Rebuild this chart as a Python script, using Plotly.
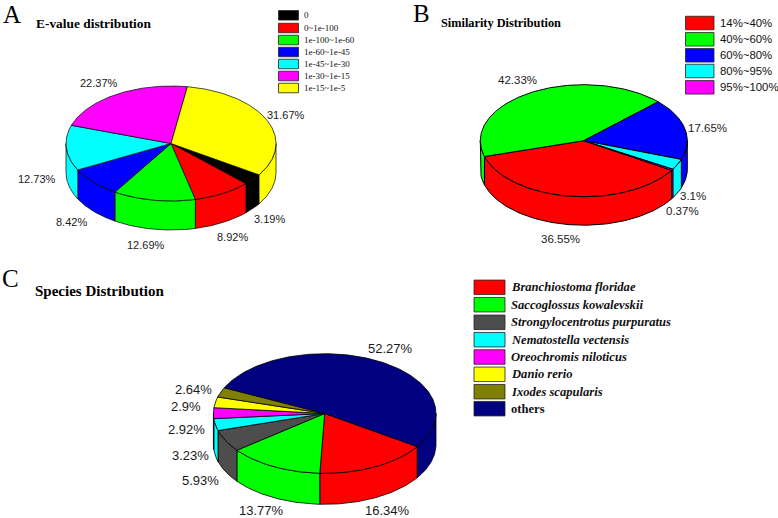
import numpy as np
import plotly.graph_objects as go

# ---- data ----
evalue_labels = ["0", "0~1e-100", "1e-100~1e-60", "1e-60~1e-45", "1e-45~1e-30", "1e-30~1e-15", "1e-15~1e-5"]
evalue_values = [3.19, 8.92, 12.69, 8.42, 12.73, 22.37, 31.67]
evalue_colors = ["#000000", "#FF0000", "#00FF00", "#0000FF", "#00FFFF", "#FF00FF", "#FFFF00"]

similarity_labels = ["14%~40%", "40%~60%", "60%~80%", "80%~95%", "95%~100%"]
similarity_values = [36.55, 42.33, 17.65, 3.1, 0.37]
similarity_colors = ["#FF0000", "#00FF00", "#0000FF", "#00FFFF", "#FF00FF"]

species_labels = ["Branchiostoma floridae", "Saccoglossus kowalevskii", "Strongylocentrotus purpuratus",
                  "Nematostella vectensis", "Oreochromis niloticus", "Danio rerio", "Ixodes scapularis", "others"]
species_values = [16.34, 13.77, 5.93, 3.23, 2.92, 2.9, 2.64, 52.27]
species_colors = ["#FF0000", "#00FF00", "#4D4D4D", "#00FFFF", "#FF00FF", "#FFFF00", "#808000", "#000080"]

# ---- layout of the three pies (pixel space of the page) ----
pie_a = dict(cx=171, cy=143.5, rx=105, ry=57.5, depth=29, start=33, lw=0.7)
pie_b = dict(cx=583.8, cy=140.7, rx=103.5, ry=56, depth=28.5, start=32, lw=1.0)
pie_c = dict(cx=324.7, cy=413.5, rx=111.3, ry=59.8, depth=31, start=33.7, lw=0.8)

label_pos_a = [(269.7, 219), (232, 237), (145.7, 245), (71, 222.3), (36.7, 179.3), (99, 82.7), (286.3, 114.7)]
label_pos_b = [(560.3, 238.7), (517.3, 80), (707.3, 127.7), (693.3, 196), (682, 211.3)]
label_pos_c = [(387.3, 510.5), (261, 510.5), (200.7, 480), (190.7, 455.7), (186, 429.7), (186, 406.7), (193.3, 389.3), (390, 348.7)]

SANS = "Liberation Sans"
SERIF = "Liberation Serif"

fig = go.Figure()
annotations = []
shapes = []


def text(x, y, s, size, family=SANS, anchor="center", color="#1a1a1a"):
    annotations.append(dict(x=x, y=y, xref="x", yref="y", text=s, showarrow=False, xanchor=anchor,
                            yanchor="middle", align=anchor, borderpad=0,
                            font=dict(family=family, size=size, color=color)))


def draw_pie(values, colors, p, label_pos, size):
    total = sum(values)
    spans = np.array(values) / total * 360.0
    edges = p["start"] + np.concatenate([[0], np.cumsum(spans)])

    def arc(a, b, dy=0.0):
        t = np.radians(np.linspace(a, b, max(int(abs(b - a)) + 2, 3)))
        return p["cx"] + p["rx"] * np.cos(t), p["cy"] + dy + p["ry"] * np.sin(t)

    # outer walls: only the part facing the viewer (0..180 degrees, also after wrapping)
    for i, c in enumerate(colors):
        for off in (0, -360):
            a = max(edges[i] + off, 0)
            b = min(edges[i + 1] + off, 180)
            if b > a:
                x1, y1 = arc(a, b)
                x2, y2 = arc(b, a, p["depth"])
                fig.add_trace(go.Scatter(x=np.r_[x1, x2, x1[0]], y=np.r_[y1, y2, y1[0]], mode="lines",
                                         fill="toself", fillcolor=c, line=dict(color="#000", width=p["lw"]),
                                         hoverinfo="skip", showlegend=False))
    # top faces
    for i, c in enumerate(colors):
        x1, y1 = arc(edges[i], edges[i + 1])
        fig.add_trace(go.Scatter(x=np.r_[p["cx"], x1, p["cx"]], y=np.r_[p["cy"], y1, p["cy"]], mode="lines",
                                 fill="toself", fillcolor=c, line=dict(color="#000", width=p["lw"]),
                                 hoverinfo="skip", showlegend=False))
    for v, (x, y) in zip(values, label_pos):
        text(x, y, f"{v:g}%", size)


def legend(labels, colors, x0, x1, ys, h, tx, size, family, fmt=lambda s: s):
    for s, c, y in zip(labels, colors, ys):
        shapes.append(dict(type="rect", xref="x", yref="y", x0=x0, x1=x1, y0=y - h / 2, y1=y + h / 2,
                           fillcolor=c, line=dict(color="#222", width=0.8)))
        text(tx, y, fmt(s), size, family, "left", "#111")


draw_pie(evalue_values, evalue_colors, pie_a, label_pos_a, 11)
draw_pie(similarity_values, similarity_colors, pie_b, label_pos_b, 11.5)
draw_pie(species_values, species_colors, pie_c, label_pos_c, 13)

legend(evalue_labels, evalue_colors, 278.5, 298.5, [15.3, 28, 40, 52, 64, 76, 88], 9.5, 303, 9, SERIF)
legend(similarity_labels, similarity_colors, 685.5, 714, [23, 39.3, 55.3, 71, 87.3], 13.5, 718.7, 11.4, SANS)
legend(species_labels, species_colors, 474, 505, [287.3, 304.7, 322.3, 339.7, 357, 374.3, 391.7, 408.7], 14.5, 510, 12.6, SERIF,
       fmt=lambda s: f"<b>{s}</b>" if s == "others" else f"<b><i>{s}</i></b>")

text(2, 14, "A", 25, SERIF, "left", "#000")
text(412, 13, "B", 25, SERIF, "left", "#000")
text(1, 278, "C", 25, SERIF, "left", "#000")
text(35, 23, "<b>E-value distribution</b>", 13.4, SERIF, "left", "#000")
text(440, 23, "<b>Similarity Distribution</b>", 12.3, SERIF, "left", "#000")
text(34, 291, "<b>Species Distribution</b>", 15, SERIF, "left", "#000")

fig.update_layout(
    width=778, height=518, margin=dict(l=0, r=0, t=0, b=0), autosize=False,
    paper_bgcolor="white", plot_bgcolor="white", showlegend=False,
    xaxis=dict(range=[0, 778], visible=False, fixedrange=True),
    yaxis=dict(range=[518, 0], visible=False, fixedrange=True),
    annotations=annotations, shapes=shapes,
)
fig.write_html("out.html", config=dict(displayModeBar=False),
               post_script="document.body.style.margin='0';")
